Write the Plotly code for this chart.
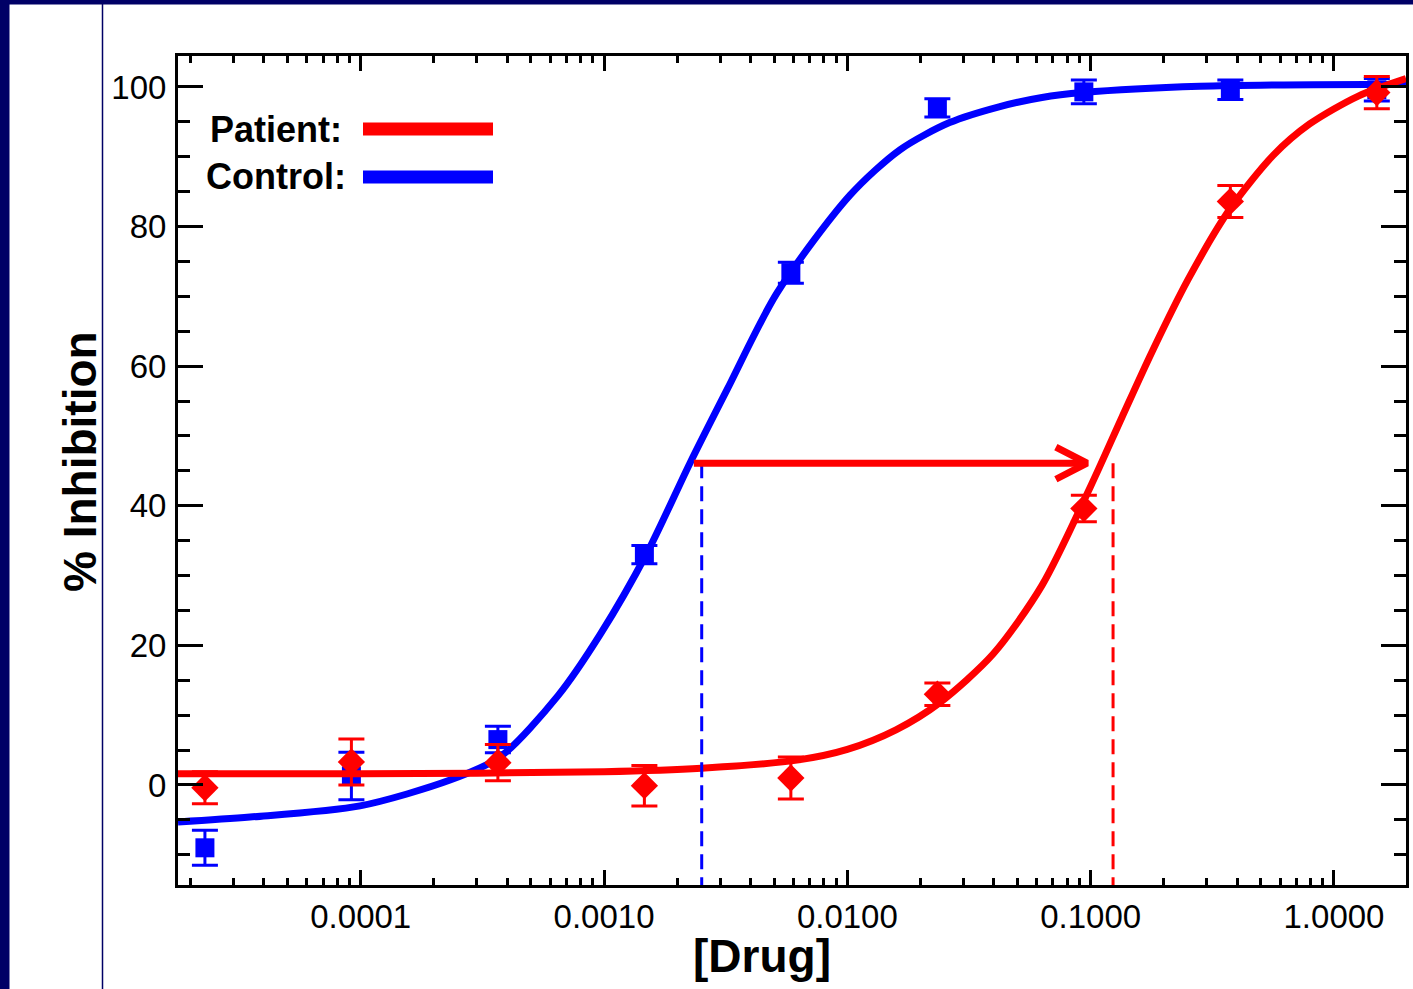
import plotly.graph_objects as go

# ---------------- data ----------------
conc = [2.289e-5, 9.155e-5, 3.662e-4, 1.465e-3, 5.859e-3, 2.344e-2, 9.375e-2, 0.375, 1.5]

control_y = [-9.0, 1.3, 6.5, 33.0, 73.4, 97.0, 99.3, 99.6, 99.6]
control_err = [2.5, 3.4, 1.9, 1.3, 1.5, 1.3, 1.7, 1.4, 1.6]

patient_y = [-0.4, 3.3, 3.2, -0.1, 1.0, 13.0, 39.6, 83.6, 99.2]
patient_err = [2.3, 3.3, 2.6, 2.9, 3.0, 1.6, 1.9, 2.3, 2.3]

# fitted curves (log10 of concentration, % inhibition)
control_fit_logx = [-4.751, -4.455, -4.003, -3.633, -3.428, -3.189, -3.017, -2.824, -2.647,
                    -2.495, -2.289, -1.989, -1.784, -1.58, -1.373, -1.2, -1.032, -0.551, 0.296]
control_fit_y = [-5.3, -4.6, -3.0, 0.7, 4.0, 12.8, 21.5, 33.2, 46.1,
                 56.6, 70.5, 84.5, 91.0, 94.9, 97.2, 98.5, 99.2, 100.1, 100.4]

patient_fit_logx = [-4.751, -4.0, -3.0, -2.6, -2.2, -2.0, -1.8, -1.62, -1.4, -1.2, -1.0,
                    -0.87, -0.75, -0.6, -0.43, -0.25, -0.1, 0.1, 0.296]
patient_fit_y = [1.6, 1.6, 1.9, 2.4, 3.6, 5.1, 7.9, 11.8, 18.8, 28.6, 42.8,
                 52.8, 61.9, 72.4, 82.4, 90.2, 94.7, 98.7, 101.2]

# IC50-style markers / shift arrow
control_ic = 0.00252
patient_ic = 0.1236
arrow_level = 46.1
arrow_start = 0.00234
arrow_tip = 0.0966

x_tick_vals = [0.0001, 0.001, 0.01, 0.1, 1.0]
x_tick_text = ["0.0001", "0.0010", "0.0100", "0.1000", "1.0000"]
y_range = [-14.33, 104.44]
x_log_range = [-4.751, 0.296]

RED = "#FF0000"
BLUE = "#0000FF"
NAVY = "#000066"
FONT = "Arial, Liberation Sans, sans-serif"

# ---------------- layout geometry (pixels) ----------------
W, H = 1413, 989
PL, PR, PT, PB = 178, 1406, 56, 885


def px_x(px):
    return (px - PL) / (PR - PL)


def px_y(py):
    return (PB - py) / (PB - PT)


fig = go.Figure()

# control curve + points
fig.add_trace(go.Scatter(
    x=[10 ** v for v in control_fit_logx], y=control_fit_y, mode="lines",
    line=dict(color=BLUE, width=7, shape="spline", smoothing=0.8), showlegend=False, hoverinfo="skip"))
fig.add_trace(go.Scatter(
    x=conc, y=control_y, mode="markers",
    marker=dict(symbol="square", size=19, color=BLUE),
    error_y=dict(type="data", array=control_err, color=BLUE, thickness=3, width=13),
    showlegend=False, name="Control"))

# patient curve + points
fig.add_trace(go.Scatter(
    x=[10 ** v for v in patient_fit_logx], y=patient_fit_y, mode="lines",
    line=dict(color=RED, width=7, shape="spline", smoothing=0.8), showlegend=False, hoverinfo="skip"))
fig.add_trace(go.Scatter(
    x=conc, y=patient_y, mode="markers",
    marker=dict(symbol="diamond", size=21, color=RED),
    error_y=dict(type="data", array=patient_err, color=RED, thickness=3, width=13),
    showlegend=False, name="Patient"))

# dashed drop lines
fig.add_trace(go.Scatter(
    x=[control_ic, control_ic], y=[arrow_level, y_range[0]], mode="lines",
    line=dict(color=BLUE, width=3, dash="15px,8px"), showlegend=False, hoverinfo="skip"))
fig.add_trace(go.Scatter(
    x=[patient_ic, patient_ic], y=[arrow_level, y_range[0]], mode="lines",
    line=dict(color=RED, width=3, dash="15px,8px"), showlegend=False, hoverinfo="skip"))

# arrow shaft and open head
fig.add_trace(go.Scatter(
    x=[arrow_start, arrow_tip], y=[arrow_level, arrow_level], mode="lines",
    line=dict(color=RED, width=7), showlegend=False, hoverinfo="skip"))
head_back = arrow_tip / 10 ** 0.128
fig.add_trace(go.Scatter(
    x=[head_back, arrow_tip, head_back], y=[arrow_level + 2.3, arrow_level, arrow_level - 2.3],
    mode="lines", line=dict(color=RED, width=7), showlegend=False, hoverinfo="skip"))

shapes = [
    # outer navy frame pieces
    dict(type="rect", xref="paper", yref="paper", x0=px_x(0), x1=px_x(9.5), y0=px_y(989), y1=px_y(0),
         fillcolor=NAVY, line=dict(width=0), layer="above"),
    dict(type="rect", xref="paper", yref="paper", x0=px_x(0), x1=px_x(1413), y0=px_y(4.5), y1=px_y(0),
         fillcolor=NAVY, line=dict(width=0), layer="above"),
    dict(type="line", xref="paper", yref="paper", x0=px_x(102.5), x1=px_x(102.5), y0=px_y(989), y1=px_y(4),
         line=dict(color=NAVY, width=1.5), layer="above"),
    # legend line samples
    dict(type="line", xref="paper", yref="paper", x0=px_x(363), x1=px_x(493), y0=px_y(129), y1=px_y(129),
         line=dict(color=RED, width=13)),
    dict(type="line", xref="paper", yref="paper", x0=px_x(363), x1=px_x(493), y0=px_y(177), y1=px_y(177),
         line=dict(color=BLUE, width=13)),
]

annotations = [
    dict(text="% Inhibition", xref="paper", yref="paper", x=px_x(80), y=px_y(462), textangle=-90,
         showarrow=False, xanchor="center", yanchor="middle",
         font=dict(family=FONT, size=46, color="black", weight="bold")),
    dict(text="[Drug]", xref="paper", yref="paper", x=px_x(762), y=px_y(956),
         showarrow=False, xanchor="center", yanchor="middle",
         font=dict(family=FONT, size=46, color="black", weight="bold")),
    dict(text="Patient:", xref="paper", yref="paper", x=px_x(344), y=px_y(130),
         showarrow=False, xanchor="right", yanchor="middle",
         font=dict(family=FONT, size=36, color="black", weight="bold")),
    dict(text="Control:", xref="paper", yref="paper", x=px_x(348), y=px_y(176),
         showarrow=False, xanchor="right", yanchor="middle",
         font=dict(family=FONT, size=36, color="black", weight="bold")),
]

fig.update_layout(
    width=W, height=H,
    margin=dict(l=PL, r=W - PR, t=PT, b=H - PB, autoexpand=False),
    paper_bgcolor="white", plot_bgcolor="white",
    shapes=shapes, annotations=annotations,
    font=dict(family=FONT, color="black"),
    xaxis=dict(
        type="log", range=x_log_range,
        tickmode="array", tickvals=x_tick_vals, ticktext=x_tick_text,
        ticks="inside", ticklen=15, tickwidth=3, tickcolor="black",
        minor=dict(ticks="inside", ticklen=7, tickwidth=2.5, tickcolor="black", dtick="D1", showgrid=False),
        showline=True, linewidth=3, linecolor="black", mirror="ticks",
        showgrid=False, zeroline=False,
        tickfont=dict(family=FONT, size=33, color="black"), ticklabelstandoff=0,
    ),
    yaxis=dict(
        range=y_range, tick0=0, dtick=20,
        ticks="inside", ticklen=25, tickwidth=3, tickcolor="black",
        minor=dict(ticks="inside", ticklen=12, tickwidth=3, tickcolor="black", dtick=5, tick0=0, showgrid=False),
        showline=True, linewidth=3, linecolor="black", mirror="ticks",
        showgrid=False, zeroline=False,
        tickfont=dict(family=FONT, size=33, color="black"), ticklabelstandoff=2,
    ),
)

fig.write_html("out.html")
